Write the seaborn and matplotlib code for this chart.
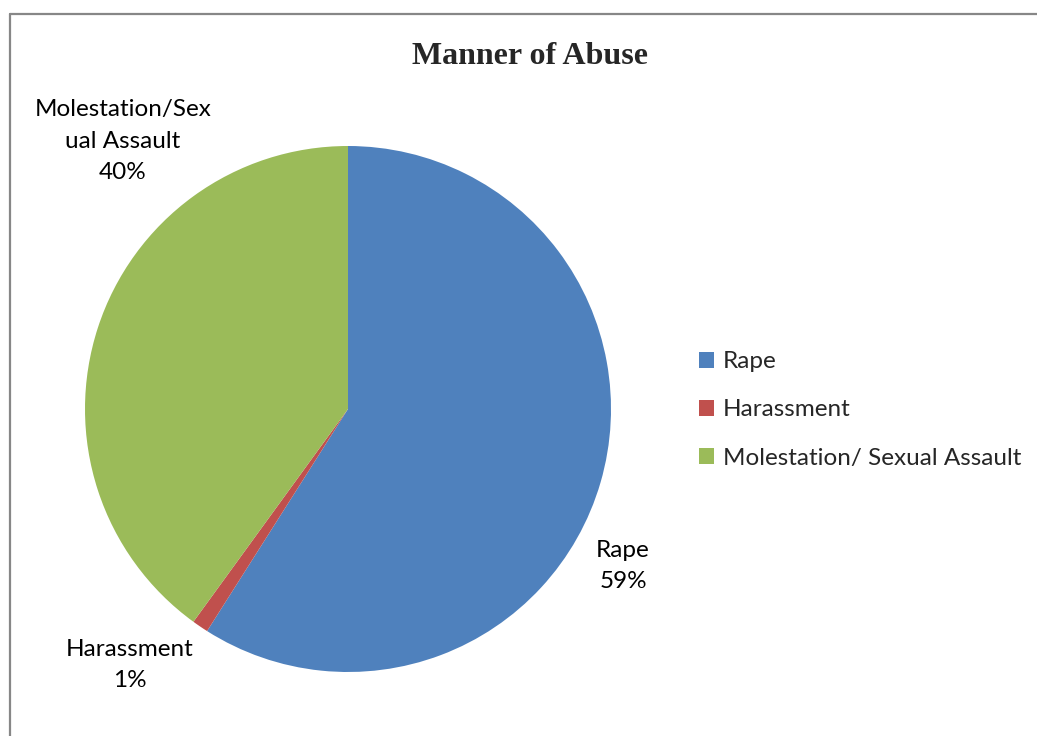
import matplotlib
matplotlib.use("Agg")
import matplotlib.pyplot as plt
from matplotlib.lines import Line2D
from matplotlib.patches import Patch
import seaborn as sns

# Data
categories = ["Rape", "Harassment", "Molestation/ Sexual Assault"]
shares = [59, 1, 40]
slice_labels = ["Rape\n59%", "Harassment\n1%", "Molestation/Sex\nual Assault\n40%"]
colors = ["#4F81BD", "#C0504D", "#9BBB59"]

sns.set_theme(style="white")
plt.rcParams["font.family"] = ["Lato", "DejaVu Sans"]

W, H = 1037, 736
fig = plt.figure(figsize=(W / 100, H / 100), dpi=100)

# Pie axes: center (348, 409) px, radius 263 px
cx, cy, r = 348, 409, 263
ax = fig.add_axes([(cx - r) / W, (H - (cy + r)) / H, 2 * r / W, 2 * r / H])
wedges, _ = ax.pie(shares, colors=colors, startangle=90, counterclock=False,
                   radius=1.0, wedgeprops=dict(linewidth=0))
ax.set_xlim(-1, 1)
ax.set_ylim(-1, 1)
ax.set_aspect("equal")
ax.axis("off")

def px_to_data(px, py):
    return (px - cx) / r, (cy - py) / r

label_pos = [(623, 566), (130, 665), (123, 141)]
for text, (px, py) in zip(slice_labels, label_pos):
    x, y = px_to_data(px, py)
    ax.text(x, y, text, ha="center", va="center", fontsize=17.5,
            color="#000000", linespacing=1.6, clip_on=False)

# Title
fig.text(530 / W, 1 - 56 / H, "Manner of Abuse", ha="center", va="center",
         fontsize=23, fontweight="bold", family="Liberation Serif")

# Legend
handles = [Patch(facecolor=c, edgecolor="none") for c in colors]
fig.legend(handles, categories, loc="center left",
           bbox_to_anchor=(699 / W, 1 - 410 / H), frameon=False,
           fontsize=17.5, handlelength=0.62, handleheight=0.62,
           handletextpad=0.35, labelspacing=1.12, borderpad=0, borderaxespad=0)

# Chart area border (left and top edges visible)
bc = "#878787"
fig.add_artist(Line2D([9.5 / W, 9.5 / W], [0, 1 - 14 / H], color=bc, lw=1.6,
                      transform=fig.transFigure))
fig.add_artist(Line2D([9.5 / W, 1], [1 - 14 / H, 1 - 14 / H], color=bc, lw=1.6,
                      transform=fig.transFigure))

fig.savefig("out.png", dpi=100, facecolor="white")
